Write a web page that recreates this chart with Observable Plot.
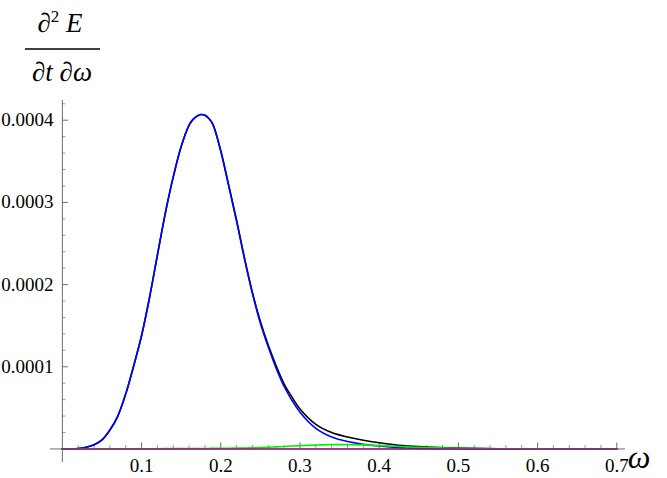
<!DOCTYPE html>
<html>
<head>
<meta charset="utf-8">
<script src="https://cdn.jsdelivr.net/npm/d3@7"></script>
<script src="https://cdn.jsdelivr.net/npm/@observablehq/plot@0.6"></script>
<style>
  body { margin: 0; background: #fff; }
  #chart svg { display: block; }
  #chart svg text { font-family: "Liberation Serif", "Tinos", "Times New Roman", "DejaVu Serif", serif !important; }
</style>
</head>
<body>
<div id="chart"></div>
<script>
// ---- data (values in units of 1e-4) ----
const UNIT = 1e-4;
const omega = [0, 0.02, 0.03, 0.04, 0.05, 0.06, 0.07, 0.08, 0.09, 0.10, 0.11, 0.12, 0.13, 0.14, 0.15, 0.16, 0.165, 0.17, 0.175, 0.18, 0.185, 0.19, 0.20, 0.21, 0.22, 0.23, 0.24, 0.25, 0.26, 0.27, 0.28, 0.29, 0.30, 0.32, 0.34, 0.36, 0.38, 0.40, 0.43, 0.46, 0.50, 0.55, 0.60, 0.65, 0.70];
const blueSeries = [0, 0.005, 0.02, 0.05, 0.11, 0.23, 0.40, 0.67, 1.01, 1.38, 1.84, 2.36, 2.87, 3.31, 3.68, 3.94, 4.01, 4.05, 4.07, 4.06, 4.02, 3.95, 3.62, 3.20, 2.77, 2.31, 1.89, 1.53, 1.24, 0.98, 0.76, 0.59, 0.446, 0.25, 0.145, 0.09, 0.058, 0.035, 0.015, 0.006, 0.002, 0.0005, 0, 0, 0];
const greenSeries = [0, 0, 0, 0, 0.0005, 0.001, 0.001, 0.0015, 0.002, 0.002, 0.003, 0.003, 0.004, 0.004, 0.005, 0.005, 0.005, 0.006, 0.006, 0.006, 0.006, 0.007, 0.008, 0.009, 0.010, 0.011, 0.013, 0.016, 0.020, 0.025, 0.030, 0.035, 0.040, 0.047, 0.052, 0.052, 0.049, 0.040, 0.028, 0.017, 0.008, 0.003, 0.001, 0, 0];
const blackSeries = [0, 0.005, 0.02, 0.05, 0.11, 0.23, 0.40, 0.67, 1.01, 1.38, 1.84, 2.36, 2.87, 3.31, 3.68, 3.94, 4.01, 4.05, 4.07, 4.06, 4.02, 3.95, 3.63, 3.21, 2.78, 2.32, 1.90, 1.55, 1.26, 1.01, 0.79, 0.63, 0.487, 0.30, 0.20, 0.145, 0.105, 0.075, 0.040, 0.022, 0.010, 0.003, 0.001, 0, 0];
const purpleSeries = omega.map(() => 0); // flat at zero across the whole range

// ---- axes / ticks ----
const xRange = [-0.015, 0.711];
const yRange = [-0.0000165, 0.000424];
const xMajor = [0.1, 0.2, 0.3, 0.4, 0.5, 0.6, 0.7];
const xTickLabels = ["0.1", "0.2", "0.3", "0.4", "0.5", "0.6", "0.7"];
const yMajor = [0.0001, 0.0002, 0.0003, 0.0004];
const yTickLabels = ["0.0001", "0.0002", "0.0003", "0.0004"];
const xMinor = d3.range(1, 36).map(i => i * 0.02).filter(v => Math.abs(v * 10 - Math.round(v * 10)) > 1e-6);
const yMinor = d3.range(1, 22).map(i => i * 0.00002).filter(v => Math.abs(v * 1e4 - Math.round(v * 1e4)) > 1e-6);

const rows = omega.map((w, i) => ({
  w,
  blue: blueSeries[i] * UNIT,
  green: greenSeries[i] * UNIT,
  black: blackSeries[i] * UNIT,
  purple: purpleSeries[i] * UNIT
}));

const axisColor = "#6e6e6e";
const lineW = 1.6;
const curve = "catmull-rom";

const chart = Plot.plot({
  width: 667,
  height: 478,
  marginLeft: 50,
  marginRight: 42,
  marginTop: 100,
  marginBottom: 16,
  x: {domain: xRange, axis: null},
  y: {domain: yRange, axis: null},
  style: {background: "#fff"},
  marks: [
    // axis lines
    Plot.ruleY([0], {x1: () => xRange[0], x2: () => xRange[1], stroke: axisColor, strokeWidth: 1}),
    Plot.ruleX([0], {y1: () => yRange[0], y2: () => yRange[1], stroke: axisColor, strokeWidth: 1}),
    // x ticks (pointing up)
    Plot.ruleX(xMajor, {x: d => d, y1: () => 0, y2: () => 0, insetTop: -6, stroke: axisColor}),
    Plot.ruleX(xMinor, {x: d => d, y1: () => 0, y2: () => 0, insetTop: -3.5, stroke: axisColor, strokeOpacity: 0.7}),
    // y ticks (pointing right)
    Plot.ruleY(yMajor, {y: d => d, x1: () => 0, x2: () => 0, insetRight: -6, stroke: axisColor}),
    Plot.ruleY(yMinor, {y: d => d, x1: () => 0, x2: () => 0, insetRight: -3.5, stroke: axisColor, strokeOpacity: 0.7}),
    // tick labels
    Plot.text(xMajor, {x: d => d, y: () => 0, text: (d, i) => xTickLabels[i], dy: 17, fontSize: 19, fill: "#000"}),
    Plot.text(yMajor, {x: () => 0, y: d => d, text: (d, i) => yTickLabels[i], dx: -9, textAnchor: "end", fontSize: 19, fill: "#000"}),
    // curves
    Plot.line(rows, {x: "w", y: "black", stroke: "#000", strokeWidth: lineW, curve}),
    Plot.line(rows, {x: "w", y: "blue", stroke: "#0000ff", strokeWidth: lineW, curve}),
    Plot.line(rows, {x: "w", y: "green", stroke: "#00ee00", strokeWidth: lineW, curve}),
    Plot.line(rows, {x: "w", y: "purple", stroke: "#a0107f", strokeWidth: lineW, curve})
  ]
});

// Axis labels (Mathematica-style fraction for y, ω for x)
const svg = d3.select(chart);
const num = svg.append("text")
  .attr("x", 60).attr("y", 32)
  .attr("text-anchor", "middle")
  .attr("font-size", 27).attr("fill", "#000");
num.append("tspan").text("∂");
num.append("tspan").attr("font-size", 17).attr("dy", -10).text("2");
num.append("tspan").attr("dy", 10).attr("font-style", "italic").text(" E");
svg.append("line")
  .attr("x1", 25).attr("x2", 100).attr("y1", 49).attr("y2", 49)
  .attr("stroke", "#000").attr("stroke-width", 1.5);
const den = svg.append("text")
  .attr("x", 62).attr("y", 81)
  .attr("text-anchor", "middle")
  .attr("font-size", 27).attr("fill", "#000");
den.append("tspan").text("∂");
den.append("tspan").attr("font-style", "italic").text("t ");
den.append("tspan").text("∂");
den.append("tspan").attr("font-style", "italic").text("ω");
svg.append("text")
  .attr("x", 639).attr("y", 468)
  .attr("font-size", 32).attr("font-style", "italic").attr("fill", "#000")
  .text("ω");

document.getElementById("chart").append(chart);
</script>
</body>
</html>
